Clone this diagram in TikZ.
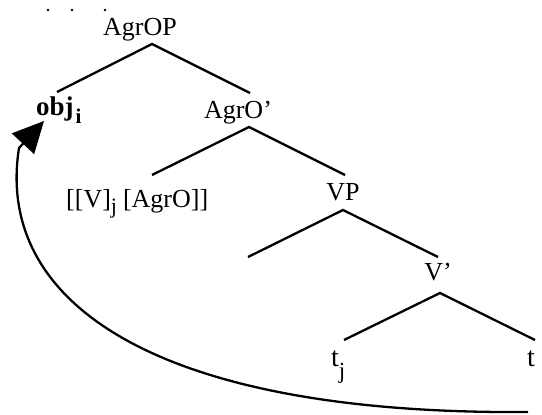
\documentclass[tikz,border=0pt]{standalone}
\usepackage{fontspec}
\setmainfont{Liberation Serif}
\usetikzlibrary{arrows.meta}
\newcommand\lowby[3]{\raisebox{-#1pt}{\fontsize{#2}{#2}\selectfont #3}}
\begin{document}
\begin{tikzpicture}[x=1pt,y=-1pt,
  branch/.style={line width=2.3pt},
  lbl/.style={inner sep=0pt, anchor=base, font=\fontsize{26}{30}\selectfont},
  dotmark/.style={circle, fill=black, inner sep=0pt, minimum size=2.8pt}]
\useasboundingbox (0,0) rectangle (542,415);
\fill[white] (0,0) rectangle (542,415);

% dots
\node[dotmark] (d1) at (48,10) {};
\node[dotmark] (d2) at (72,10) {};
\node[dotmark] (d3) at (105,10) {};

% labels
\node[lbl] (agrop) at (140,35) {AgrOP};
\node[lbl, anchor=base west] (obj) at (36,115) {\fontsize{27}{30}\selectfont\bfseries obj\kern2pt\lowby{8}{21}{i}};
\node[lbl] (agro) at (238,118) {AgrO’};
\node[lbl, anchor=base west] (vagro) at (66,207) {[[V]\lowby{6}{22}{j}\kern6pt[AgrO]]};
\node[lbl] (vp) at (343,200) {VP};
\node[lbl] (vbar) at (438,280) {V’};
\node[lbl, anchor=base west] (tj) at (331,366) {\fontsize{28}{30}\selectfont t\lowby{12}{23}{j}};
\node[lbl, anchor=base west] (t) at (527,366) {\fontsize{28}{30}\selectfont t};

% branch points
\coordinate (agropTop) at (152,44);
\coordinate (agropL) at (57,92);
\coordinate (agropR) at (250,93);
\coordinate (agroTop) at (249,127);
\coordinate (agroL) at (152,175);
\coordinate (agroR) at (345,175);
\coordinate (vpTop) at (343,210);
\coordinate (vpL) at (248,257);
\coordinate (vpR) at (438,257);
\coordinate (vbarTop) at (440,293);
\coordinate (vbarL) at (344,340);
\coordinate (vbarR) at (535,340);

\draw[branch] (agropL) -- (agropTop) -- (agropR);
\draw[branch] (agroL) -- (agroTop) -- (agroR);
\draw[branch] (vpL) -- (vpTop) -- (vpR);
\draw[branch] (vbarL) -- (vbarTop) -- (vbarR);

% movement arrow
\coordinate (mvStart) at (528,412);
\coordinate (mvBase) at (19,148);
\coordinate (mvTip) at (44,121);
\draw[line width=2.3pt, -{Triangle[length=31pt,width=30pt]}]
  (mvStart) .. controls (150,415) and (-5,300) .. (mvBase) -- (mvTip);
\end{tikzpicture}
\end{document}
